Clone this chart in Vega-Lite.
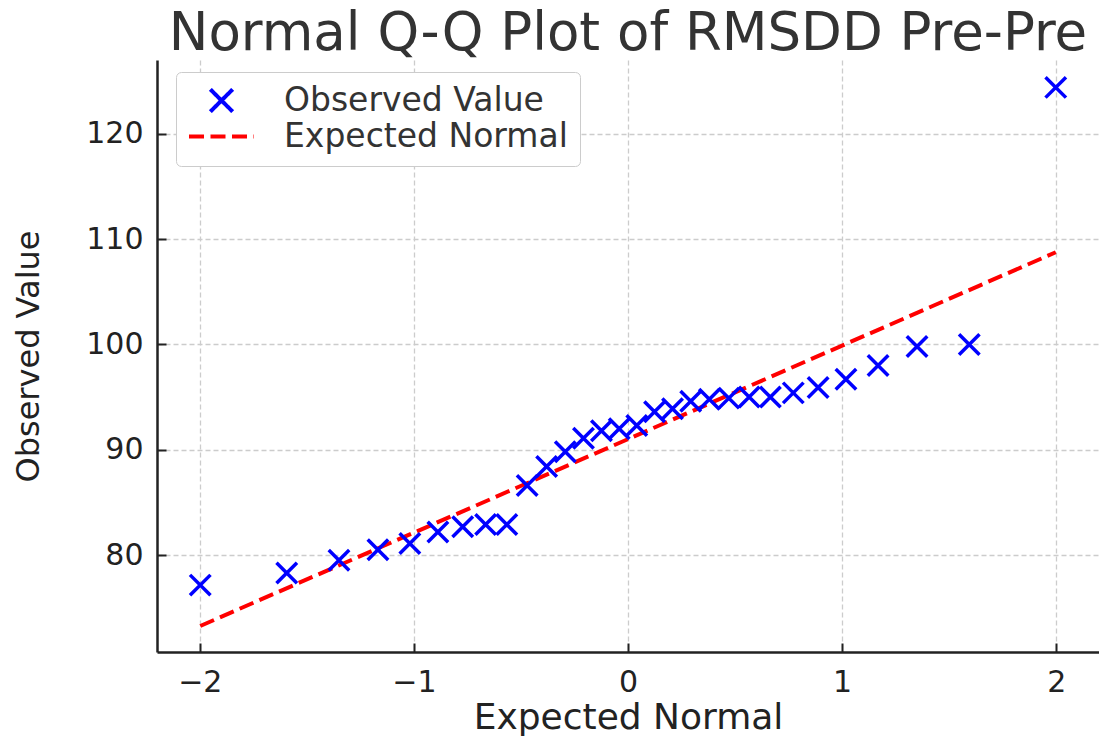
{
  "$schema": "https://vega.github.io/schema/vega-lite/v6.json",
  "autosize": "none",
  "width": 942,
  "height": 592,
  "padding": {"left": 157, "top": 60, "right": 0, "bottom": 88},
  "background": "white",
  "title": {
    "text": "Normal Q-Q Plot of RMSDD Pre-Pre",
    "font": "DejaVu Sans",
    "fontSize": 53,
    "fontWeight": "normal",
    "color": "#333333",
    "anchor": "middle",
    "baseline": "alphabetic",
    "offset": 12,
    "dy": 55
  },
  "config": {
    "view": {"stroke": null},
    "axis": {
      "domainColor": "#222222",
      "domainWidth": 2.5,
      "tickColor": "#222222",
      "tickWidth": 2,
      "tickSize": -9,
      "gridColor": "#cccccc",
      "gridDash": [5, 3],
      "gridWidth": 1.3,
      "labelFont": "DejaVu Sans",
      "labelFontSize": 30,
      "labelColor": "#222222",
      "titleFont": "DejaVu Sans",
      "titleFontWeight": "normal",
      "titleColor": "#222222"
    },
    "legend": {
      "orient": "none",
      "legendX": 19,
      "legendY": 12,
      "title": null,
      "labelFont": "DejaVu Sans",
      "labelFontSize": 33,
      "labelColor": "#333333",
      "labelLimit": 500,
      "strokeColor": "#cccccc",
      "fillColor": "white",
      "padding": 12,
      "cornerRadius": 5,
      "symbolStrokeWidth": 4,
      "symbolSize": 4225,
      "symbolOffset": 17,
      "labelOffset": 46,
      "rowPadding": -19
    }
  },
  "layer": [
    {
      "data": {
        "values": [
          {"q": -1.998, "v": 73.27, "series": "Expected Normal"},
          {"q": 1.998, "v": 108.75, "series": "Expected Normal"}
        ]
      },
      "mark": {"type": "line", "strokeWidth": 4},
      "encoding": {
        "x": {
          "field": "q", "type": "quantitative",
          "scale": {"domain": [-2.2, 2.2], "nice": false, "zero": false},
          "axis": {"values": [-2, -1, 0, 1, 2], "title": "Expected Normal", "titleFontSize": 36, "labelPadding": 24, "titlePadding": 3, "format": "d", "labelExpr": "replace(datum.label, '-', '\u2212')"}
        },
        "y": {
          "field": "v", "type": "quantitative",
          "scale": {"domain": [70.8, 127], "nice": false, "zero": false},
          "axis": {"values": [80, 90, 100, 110, 120], "title": "Observed Value", "titleFontSize": 32, "labelPadding": 23, "titlePadding": 40}
        },
        "color": {
          "field": "series", "type": "nominal",
          "scale": {"domain": ["Observed Value", "Expected Normal"], "range": ["#0000ff", "#ff0000"]},
          "legend": {
            "encode": {
              "symbols": {
                "update": {
                  "size": {"signal": "datum.value === 'Expected Normal' ? 4225 : 500"}
                }
              }
            }
          }
        },
        "strokeDash": {
          "field": "series", "type": "nominal",
          "scale": {"domain": ["Observed Value", "Expected Normal"], "range": [[1, 0], [15, 6.5]]}
        }
      }
    },
    {
      "data": {
        "values": [
          {"q": -1.998, "v": 77.15, "series": "Observed Value"},
          {"q": -1.594, "v": 78.3, "series": "Observed Value"},
          {"q": -1.35, "v": 79.5, "series": "Observed Value"},
          {"q": -1.168, "v": 80.5, "series": "Observed Value"},
          {"q": -1.019, "v": 81.1, "series": "Observed Value"},
          {"q": -0.888, "v": 82.2, "series": "Observed Value"},
          {"q": -0.772, "v": 82.7, "series": "Observed Value"},
          {"q": -0.665, "v": 82.9, "series": "Observed Value"},
          {"q": -0.566, "v": 82.9, "series": "Observed Value"},
          {"q": -0.471, "v": 86.6, "series": "Observed Value"},
          {"q": -0.38, "v": 88.4, "series": "Observed Value"},
          {"q": -0.293, "v": 89.8, "series": "Observed Value"},
          {"q": -0.208, "v": 91.1, "series": "Observed Value"},
          {"q": -0.124, "v": 91.8, "series": "Observed Value"},
          {"q": -0.041, "v": 92.0, "series": "Observed Value"},
          {"q": 0.041, "v": 92.3, "series": "Observed Value"},
          {"q": 0.124, "v": 93.6, "series": "Observed Value"},
          {"q": 0.208, "v": 93.9, "series": "Observed Value"},
          {"q": 0.293, "v": 94.6, "series": "Observed Value"},
          {"q": 0.38, "v": 94.8, "series": "Observed Value"},
          {"q": 0.471, "v": 94.9, "series": "Observed Value"},
          {"q": 0.566, "v": 95.0, "series": "Observed Value"},
          {"q": 0.665, "v": 95.0, "series": "Observed Value"},
          {"q": 0.772, "v": 95.4, "series": "Observed Value"},
          {"q": 0.888, "v": 95.9, "series": "Observed Value"},
          {"q": 1.018, "v": 96.7, "series": "Observed Value"},
          {"q": 1.168, "v": 98.0, "series": "Observed Value"},
          {"q": 1.35, "v": 99.8, "series": "Observed Value"},
          {"q": 1.594, "v": 100.0, "series": "Observed Value"},
          {"q": 1.998, "v": 124.4, "series": "Observed Value"}
        ]
      },
      "mark": {"type": "point", "filled": false, "strokeWidth": 3.5, "size": 420, "opacity": 1},
      "encoding": {
        "x": {"field": "q", "type": "quantitative"},
        "y": {"field": "v", "type": "quantitative"},
        "color": {"field": "series", "type": "nominal"},
        "shape": {
          "field": "series", "type": "nominal",
          "scale": {"domain": ["Observed Value", "Expected Normal"], "range": ["M-1,-1L1,1M-1,1L1,-1", "stroke"]}
        }
      }
    }
  ]
}
